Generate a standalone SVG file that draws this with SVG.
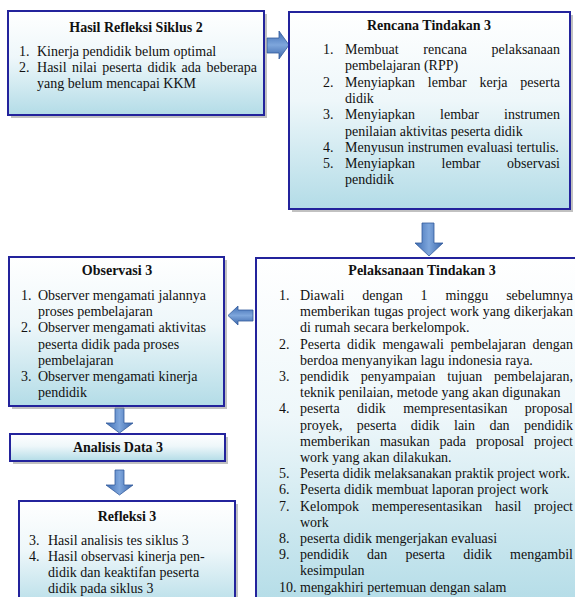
<svg xmlns="http://www.w3.org/2000/svg" width="575" height="597" viewBox="0 0 575 597">
<defs>
<linearGradient id="boxFill" x1="0" y1="0" x2="0" y2="1">
<stop offset="0" stop-color="#FFFFFF"/>
<stop offset="0.45" stop-color="#EEF7FA"/>
<stop offset="1" stop-color="#B3DCE7"/>
</linearGradient>
<linearGradient id="arrV" x1="0" y1="0" x2="1" y2="0">
<stop offset="0" stop-color="#3F6DB3"/>
<stop offset="0.5" stop-color="#7EA6DC"/>
<stop offset="1" stop-color="#3A66AA"/>
</linearGradient>
<linearGradient id="arrH" x1="0" y1="0" x2="0" y2="1">
<stop offset="0" stop-color="#3F6DB3"/>
<stop offset="0.5" stop-color="#7EA6DC"/>
<stop offset="1" stop-color="#3A66AA"/>
</linearGradient>
<style>
.shadow{fill:#8E8E8E;opacity:0.55}
.box{fill:url(#boxFill);stroke:#23239C;stroke-width:2}
text{font-family:"Times New Roman","Liberation Serif",Tinos,"DejaVu Serif",serif;font-size:14px;fill:#111}
.h{font-weight:bold;text-anchor:middle}
.av{fill:url(#arrV);stroke:#345C9C;stroke-width:0.8}
.ah{fill:url(#arrH);stroke:#345C9C;stroke-width:0.8}
</style>
</defs>
<rect width="575" height="597" fill="#FFFFFF"/>

<g id="connectors">
<polygon class="ah" points="267,38 279,38 279,31 289,45 279,59 279,53 267,53"/>
<polygon class="av" points="422,223 434,223 434,243 443,243 429,256 415,243 422,243"/>
<polygon class="ah" points="253,310 238,310 238,306 228,315.5 238,325 238,321 253,321"/>
<polygon class="av" points="115,408 124,408 124,423 133,423 119.5,433 106,423 115,423"/>
<polygon class="av" points="115,470 124,470 124,485 133,485 119.5,495 106,485 115,485"/>
</g>

<g id="hasil-refleksi-siklus-2">
<rect class="shadow" x="11" y="14" width="256" height="104"/>
<rect class="box" x="8" y="11" width="256" height="104"/>
<text class="h" x="136" y="32">Hasil Refleksi Siklus 2</text>
<text x="19" y="56">1.</text>
<text x="37" y="56">Kinerja pendidik belum optimal</text>
<text x="19" y="72">2.</text>
<text x="37" y="72" word-spacing="1.9" textLength="220" lengthAdjust="spacing">Hasil nilai peserta didik ada beberapa</text>
<text x="37" y="88">yang belum mencapai KKM</text>
</g>

<g id="rencana-tindakan-3">
<rect class="shadow" x="292" y="15" width="281" height="197"/>
<rect class="box" x="289" y="12" width="281" height="197"/>
<text class="h" x="429" y="30">Rencana Tindakan 3</text>
<text x="323" y="54">1.</text>
<text x="345" y="54" word-spacing="21.2" textLength="215" lengthAdjust="spacing">Membuat rencana pelaksanaan</text>
<text x="345" y="70.3">pembelajaran (RPP)</text>
<text x="323" y="86.6">2.</text>
<text x="345" y="86.6" word-spacing="9.3" textLength="215" lengthAdjust="spacing">Menyiapkan lembar kerja peserta</text>
<text x="345" y="102.9">didik</text>
<text x="323" y="119.2">3.</text>
<text x="345" y="119.2" word-spacing="21.6" textLength="215" lengthAdjust="spacing">Menyiapkan lembar instrumen</text>
<text x="345" y="135.5">penilaian aktivitas peserta didik</text>
<text x="323" y="151.8">4.</text>
<text x="345" y="151.8">Menyusun instrumen evaluasi tertulis.</text>
<text x="323" y="168.1">5.</text>
<text x="345" y="168.1" word-spacing="23.1" textLength="215" lengthAdjust="spacing">Menyiapkan lembar observasi</text>
<text x="345" y="184.4">pendidik</text>
</g>

<g id="pelaksanaan-tindakan-3">
<rect class="shadow" x="259" y="261" width="330" height="350"/>
<rect class="box" x="256" y="258" width="330" height="350"/>
<text class="h" x="422" y="275">Pelaksanaan Tindakan 3</text>
<text x="279" y="300">1.</text>
<text x="300" y="300" word-spacing="14.4" textLength="273" lengthAdjust="spacing">Diawali dengan 1 minggu sebelumnya</text>
<text x="300" y="316.2" word-spacing="0.4" textLength="273" lengthAdjust="spacing">memberikan tugas project work yang dikerjakan</text>
<text x="300" y="332.4">di rumah secara berkelompok.</text>
<text x="279" y="348.6">2.</text>
<text x="300" y="348.6" word-spacing="3.1" textLength="273" lengthAdjust="spacing">Peserta didik mengawali pembelajaran dengan</text>
<text x="300" y="364.8">berdoa menyanyikan lagu indonesia raya.</text>
<text x="279" y="381">3.</text>
<text x="300" y="381" word-spacing="8.3" textLength="273" lengthAdjust="spacing">pendidik penyampaian tujuan pembelajaran,</text>
<text x="300" y="397.2">teknik penilaian, metode yang akan digunakan</text>
<text x="279" y="413.4">4.</text>
<text x="300" y="413.4" word-spacing="13.9" textLength="273" lengthAdjust="spacing">peserta didik mempresentasikan proposal</text>
<text x="300" y="429.6" word-spacing="10.9" textLength="273" lengthAdjust="spacing">proyek, peserta didik lain dan pendidik</text>
<text x="300" y="445.8" word-spacing="6.4" textLength="273" lengthAdjust="spacing">memberikan masukan pada proposal project</text>
<text x="300" y="462">work yang akan dilakukan.</text>
<text x="279" y="478.2">5.</text>
<text x="300" y="478.2" style="font-size:13.6px" textLength="270" lengthAdjust="spacingAndGlyphs">Peserta didik melaksanakan praktik project work.</text>
<text x="279" y="494.4">6.</text>
<text x="300" y="494.4">Peserta didik membuat laporan project work</text>
<text x="279" y="510.6">7.</text>
<text x="300" y="510.6" word-spacing="9.2" textLength="273" lengthAdjust="spacing">Kelompok memperesentasikan hasil project</text>
<text x="300" y="526.8">work</text>
<text x="279" y="543">8.</text>
<text x="300" y="543">peserta didik mengerjakan evaluasi</text>
<text x="279" y="559.2">9.</text>
<text x="300" y="559.2" word-spacing="14.6" textLength="273" lengthAdjust="spacing">pendidik dan peserta didik mengambil</text>
<text x="300" y="575.4">kesimpulan</text>
<text x="279" y="591.6">10.</text>
<text x="300" y="591.6">mengakhiri pertemuan dengan salam</text>
</g>

<g id="observasi-3">
<rect class="shadow" x="12" y="260" width="215" height="149"/>
<rect class="box" x="9" y="257" width="215" height="149"/>
<text class="h" x="117" y="275">Observasi 3</text>
<text x="21" y="300">1.</text>
<text x="38" y="300">Observer mengamati jalannya</text>
<text x="38" y="316.2">proses pembelajaran</text>
<text x="21" y="332.4">2.</text>
<text x="38" y="332.4">Observer mengamati aktivitas</text>
<text x="38" y="348.6">peserta didik pada proses</text>
<text x="38" y="364.8">pembelajaran</text>
<text x="21" y="381">3.</text>
<text x="38" y="381">Observer mengamati kinerja</text>
<text x="38" y="397.2">pendidik</text>
</g>

<g id="analisis-data-3">
<rect class="shadow" x="13" y="437" width="215" height="27"/>
<rect class="box" x="10" y="434" width="215" height="27"/>
<text class="h" x="118" y="452">Analisis Data 3</text>
</g>

<g id="refleksi-3">
<rect class="shadow" x="22" y="504" width="216" height="110"/>
<rect class="box" x="19" y="501" width="216" height="110"/>
<text class="h" x="127" y="521">Refleksi 3</text>
<text x="29" y="545">3.</text>
<text x="48" y="545">Hasil analisis tes siklus 3</text>
<text x="29" y="561">4.</text>
<text x="48" y="561">Hasil observasi kinerja pen-</text>
<text x="48" y="577">didik dan keaktifan peserta</text>
<text x="48" y="593">didik pada siklus 3</text>
</g>
</svg>
